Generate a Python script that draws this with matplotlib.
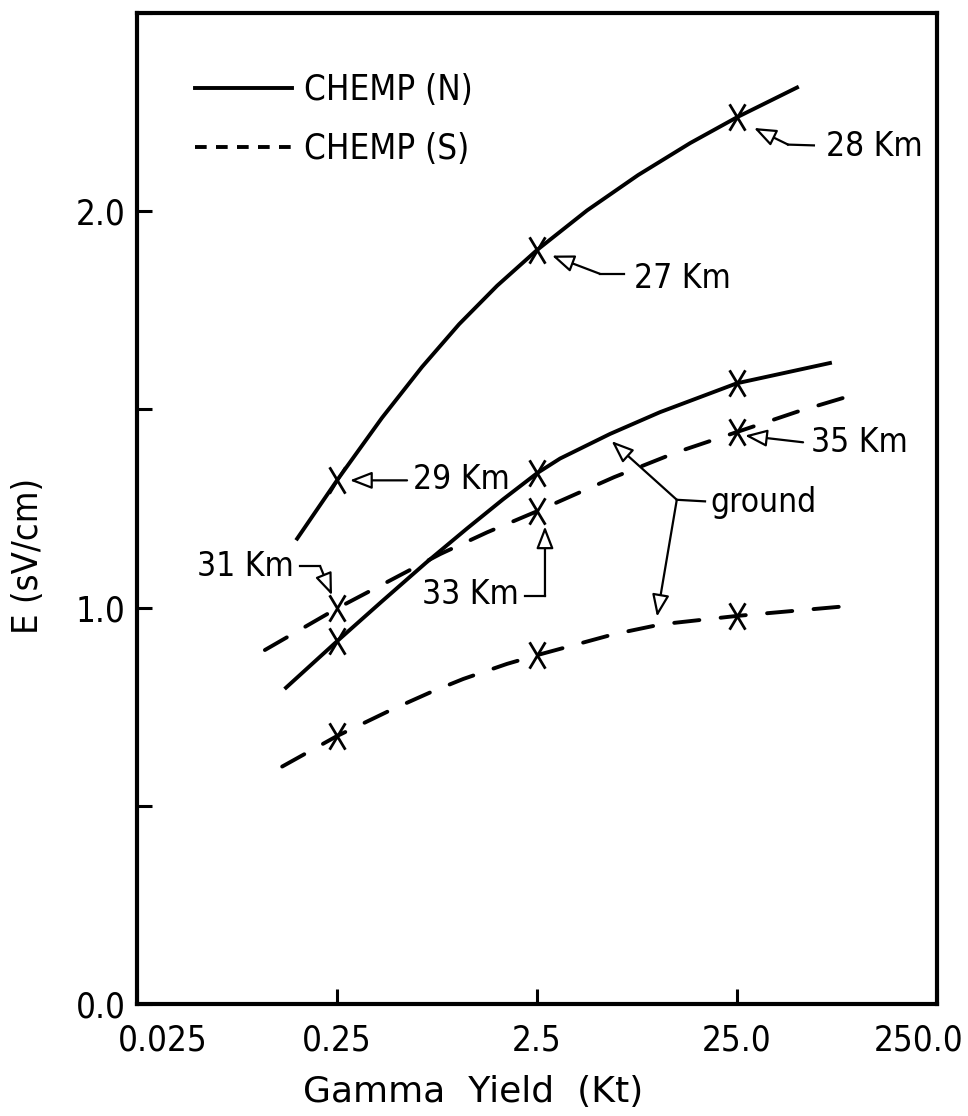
import matplotlib.pyplot as plt
from matplotlib.lines import Line2D
from matplotlib.path import Path
from matplotlib.transforms import ScaledTranslation

plt.rcParams['font.family'] = ['DejaVu Sans']
plt.rcParams['font.stretch'] = 'condensed'

# Peak field (sV/cm) against gamma yield (kt)
# CHEMP(N), burst at altitude (29 / 27 / 28 km)
yield_n_alt = [0.158, 0.25, 0.42, 0.665, 1.02, 1.58, 2.5, 4.45, 8.0, 14.6, 25.0, 49.9]
field_n_alt = [1.174, 1.321, 1.479, 1.607, 1.715, 1.812, 1.902, 2.002, 2.091, 2.172, 2.237, 2.312]
# CHEMP(N), ground observer
yield_n_gnd = [0.139, 0.25, 0.42, 0.696, 1.12, 1.69, 2.5, 3.26, 5.79, 10.3, 25.0, 72.9]
field_n_gnd = [0.798, 0.915, 1.016, 1.113, 1.200, 1.273, 1.339, 1.376, 1.438, 1.493, 1.566, 1.617]
# CHEMP(S), burst at altitude (31 / 33 / 35 km)
yield_s_alt = [0.109, 0.25, 0.471, 0.82, 1.41, 2.5, 6.07, 12.5, 25.0, 49.9, 96.0]
field_s_alt = [0.893, 0.998, 1.071, 1.135, 1.190, 1.243, 1.329, 1.392, 1.443, 1.494, 1.537]
# CHEMP(S), ground observer
yield_s_gnd = [0.133, 0.25, 0.471, 0.746, 1.07, 1.77, 2.5, 6.07, 10.5, 25.0, 89.8]
field_s_gnd = [0.599, 0.676, 0.743, 0.788, 0.820, 0.858, 0.880, 0.933, 0.958, 0.979, 1.004]

mark_yields = [0.25, 2.5, 25.0]

x_ticks = [0.025, 0.25, 2.5, 25.0, 250.0]
x_tick_labels = ['0.025', '0.25', '2.5', '25.0', '250.0']
y_ticks = [0.0, 0.5, 1.0, 1.5, 2.0, 2.5]
y_tick_labels = ['0.0', '', '1.0', '', '2.0', '']

# letter-like X used for the computed points
x_mark = Path([(-0.6, -1), (0.6, 1), (-0.6, 1), (0.6, -1)],
              [Path.MOVETO, Path.LINETO, Path.MOVETO, Path.LINETO])

DASH = (0, (6.5, 5.5))
LW = 2.8
LABEL_SIZE = 24

fig = plt.figure(figsize=(9.68, 11.16), dpi=100)
ax = fig.add_axes([137 / 968, 112 / 1116, 800 / 968, 991 / 1116])
ax.set_xscale('log')
ax.set_xlim(0.025, 250.0)
ax.set_ylim(0.0, 2.5)

curves = [
    (yield_n_alt, field_n_alt, '-'),
    (yield_n_gnd, field_n_gnd, '-'),
    (yield_s_alt, field_s_alt, DASH),
    (yield_s_gnd, field_s_gnd, DASH),
]
for xs, ys, ls in curves:
    ax.plot(xs, ys, color='black', lw=LW, ls=ls, dash_capstyle='round',
            solid_joinstyle='round')
    mx = [x for x in xs if x in mark_yields]
    my = [y for x, y in zip(xs, ys) if x in mark_yields]
    ax.plot(mx, my, ls='none', marker=x_mark, ms=19, mew=2.0,
            mec='black', mfc='none')

# legend
handles = [Line2D([], [], color='black', lw=LW),
           Line2D([], [], color='black', lw=LW, ls=(0, (3, 2.4)))]
ax.legend(handles, ['CHEMP (N)', 'CHEMP (S)'], loc='upper left',
          bbox_to_anchor=(0.072, 0.939), frameon=False, fontsize=25,
          handlelength=2.8, handletextpad=0.35, labelspacing=0.7,
          borderpad=0, borderaxespad=0)

arrow_style = dict(arrowstyle='-|>,head_length=0.9,head_width=0.35',
                   mutation_scale=15, fc='white', ec='black', lw=1.6,
                   shrinkA=0, shrinkB=0)


def callout(text, text_xy, ha, path, tips):
    ax.text(text_xy[0], text_xy[1], text, ha=ha, va='center', fontsize=LABEL_SIZE)
    ax.plot([p[0] for p in path], [p[1] for p in path], color='black', lw=1.6)
    for tip in tips:
        ax.annotate('', xy=tip, xytext=path[-1], arrowprops=arrow_style)


callout('28 Km', (70.0, 2.163), 'left', [(60.6, 2.166), (45.0, 2.168)], [(30.4, 2.21)])
callout('27 Km', (7.63, 1.83), 'left', [(6.8, 1.842), (5.16, 1.842)], [(2.97, 1.888)])
callout('29 Km', (0.60, 1.324), 'left', [(0.56, 1.321)], [(0.29, 1.321)])
callout('31 Km', (0.152, 1.104), 'right', [(0.163, 1.104), (0.206, 1.104)], [(0.236, 1.031)])
callout('33 Km', (2.03, 1.034), 'right', [(2.18, 1.029), (2.74, 1.029)], [(2.74, 1.205)])
callout('35 Km', (58.6, 1.417), 'left', [(53.5, 1.417)], [(27.4, 1.434)])
callout('ground', (18.5, 1.265), 'left', [(17.3, 1.268), (12.5, 1.272)],
        [(5.9, 1.42), (9.95, 0.977)])

# axes frame and ticks
for sp in ax.spines.values():
    sp.set_linewidth(3)
ax.minorticks_off()
ax.set_xticks(x_ticks)
ax.set_xticklabels(x_tick_labels)
ax.set_yticks(y_ticks)
ax.set_yticklabels(y_tick_labels)
ax.tick_params(direction='in', length=11, width=2.2, labelsize=25)
ax.tick_params(axis='x', pad=14)
ax.tick_params(axis='y', pad=8)

# end labels sit just inside the frame corners
xt = ax.get_xticklabels()
for lbl, dx in ((xt[0], 26), (xt[-1], -18)):
    lbl.set_transform(lbl.get_transform() + ScaledTranslation(dx / 100, 0, fig.dpi_scale_trans))

ax.set_xlabel('Gamma  Yield  (Kt)', fontsize=26, fontstretch='normal')
ax.xaxis.set_label_coords(0.42, -0.072)
ax.set_ylabel('E (sV/cm)', fontsize=26, va='center')
ax.yaxis.set_label_coords(-0.136, 0.452)

fig.savefig('out.png', dpi=100)
